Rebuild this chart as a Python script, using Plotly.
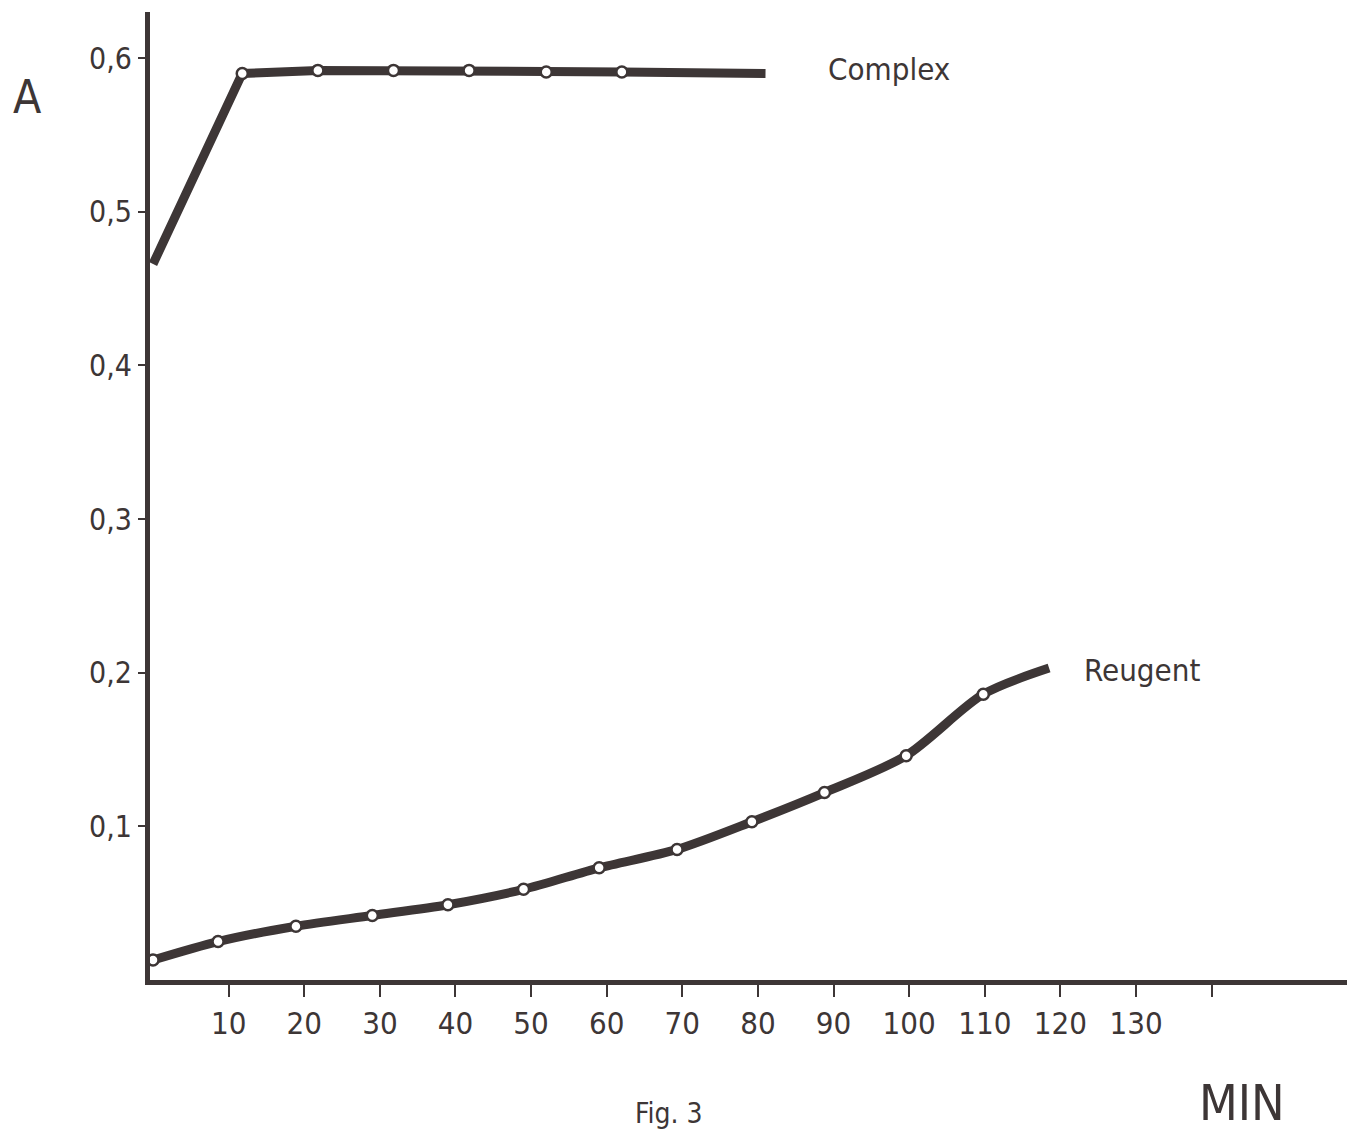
import plotly.graph_objects as go

# Data (time in minutes, absorbance A)
complex_t = [0, 11.8, 21.8, 31.8, 41.8, 52.0, 62.0, 81.0]
complex_a = [0.466, 0.590, 0.592, 0.592, 0.592, 0.591, 0.591, 0.590]
complex_marker = [0, 1, 1, 1, 1, 1, 1, 0]

reagent_t = [0, 8.6, 18.9, 29.0, 39.0, 49.0, 59.0, 69.3, 79.2, 88.8, 99.6, 109.8, 118.5]
reagent_a = [0.013, 0.025, 0.035, 0.042, 0.049, 0.059, 0.073, 0.085, 0.103, 0.122, 0.146, 0.186, 0.203]
reagent_marker = [1, 1, 1, 1, 1, 1, 1, 1, 1, 1, 1, 1, 0]

y_ticks = [0.1, 0.2, 0.3, 0.4, 0.5, 0.6]
y_ticktext = ["0,1", "0,2", "0,3", "0,4", "0,5", "0,6"]
x_ticks = [10, 20, 30, 40, 50, 60, 70, 80, 90, 100, 110, 120, 130, 140]
x_ticktext = ["10", "20", "30", "40", "50", "60", "70", "80", "90", "100", "110", "120", "130", ""]

INK = "#3d3636"
FONT = "DejaVu Sans Condensed, Liberation Sans Narrow, DejaVu Sans, sans-serif"

fig = go.Figure()

def add_series(t, a, flags, shape):
    fig.add_trace(go.Scatter(
        x=t, y=a, mode="lines",
        line=dict(color=INK, width=9, shape=shape, smoothing=0.8),
        showlegend=False, hoverinfo="skip"))
    mt = [v for v, f in zip(t, flags) if f]
    ma = [v for v, f in zip(a, flags) if f]
    fig.add_trace(go.Scatter(
        x=mt, y=ma, mode="markers",
        marker=dict(size=11, color="white", line=dict(color=INK, width=2.5)),
        showlegend=False, hoverinfo="skip"))

add_series(complex_t, complex_a, complex_marker, "linear")
add_series(reagent_t, reagent_a, reagent_marker, "spline")

fig.add_annotation(x=89.0, y=0.593, xref="x", yref="y", text="Complex",
                   showarrow=False, xanchor="left", yanchor="middle",
                   font=dict(family=FONT, size=31, color=INK))
fig.add_annotation(x=122.8, y=0.202, xref="x", yref="y", text="Reugent",
                   showarrow=False, xanchor="left", yanchor="middle",
                   font=dict(family=FONT, size=31, color=INK))
fig.add_annotation(x=-0.1026, y=0.912, xref="paper", yref="paper", text="A",
                   showarrow=False, xanchor="center", yanchor="middle",
                   font=dict(family=FONT, size=46, color=INK))
fig.add_annotation(x=0.9124, y=-0.127, xref="paper", yref="paper", text="MIN",
                   showarrow=False, xanchor="center", yanchor="middle",
                   font=dict(family=FONT, size=50, color=INK))
fig.add_annotation(x=0.4329, y=-0.1374, xref="paper", yref="paper", text="Fig. 3",
                   showarrow=False, xanchor="center", yanchor="middle",
                   font=dict(family=FONT, size=28, color=INK))

fig.update_layout(
    width=1347, height=1131,
    margin=dict(l=150, r=0, t=12, b=151),
    paper_bgcolor="white", plot_bgcolor="white",
    xaxis=dict(range=[-0.4, 157.9], showgrid=False, zeroline=False,
               showline=True, linewidth=5, linecolor=INK,
               tickmode="array", tickvals=x_ticks, ticktext=x_ticktext,
               ticks="outside", ticklen=12, tickwidth=2, tickcolor=INK,
               tickfont=dict(family=FONT, size=31, color=INK)),
    yaxis=dict(range=[0, 0.63], showgrid=False, zeroline=False,
               showline=True, linewidth=5, linecolor=INK,
               tickmode="array", tickvals=y_ticks, ticktext=y_ticktext,
               ticks="outside", ticklen=7, tickwidth=2, tickcolor=INK,
               tickfont=dict(family=FONT, size=30, color=INK)),
)

fig.write_html("out.html")
